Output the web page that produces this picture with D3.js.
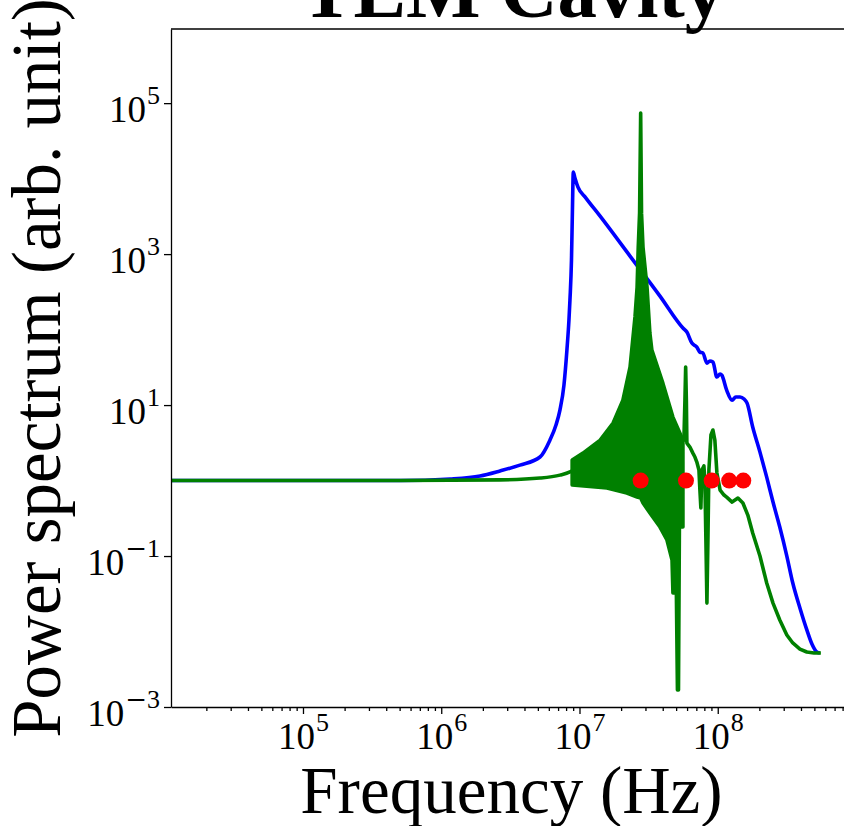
<!DOCTYPE html>
<html><head><meta charset="utf-8">
<script src="https://cdn.jsdelivr.net/npm/d3@7"></script>
<style>body{margin:0;background:#fff}svg{display:block}</style>
</head><body><svg id="c" width="844" height="826"></svg>
<script>
// ---- data ----
const blueFreq=[1.11e4,9.5e4,5.04e5,1.16e6,1.91e6,2.66e6,3.71e6,5.18e6,6.11e6,6.76e6,7.22e6,7.72e6,8.11e6,8.39e6,8.53e6,8.75e6,8.89e6,9.02e6,9.27e6,9.75e6,1.11e7,1.41e7,2.32e7,3.82e7,5.60e7,5.98e7,6.50e7,7.06e7,7.43e7,7.81e7,8.35e7,8.77e7,9.23e7,9.86e7,1.04e8,1.07e8,1.16e8,1.27e8,1.35e8,1.45e8,1.55e8,1.63e8,1.79e8,2.02e8,2.26e8,2.51e8,2.81e8,3.16e8,3.49e8,3.93e8,4.41e8,4.80e8,5.21e8,5.48e8];
const bluePower=[1.0,1.0,1.0,1.05,1.15,1.34,1.60,2.05,3.43,5.43,8.59,18.4,53.5,134,246,834,3830,1.22e4,1.02e4,7710,5570,3180,942,278,105,92.7,66.2,58.6,50.3,48.9,36.0,38.3,37.2,23.5,25.8,24.9,15.8,11.6,12.8,12.8,12.0,10.6,5.12,2.38,1.11,0.519,0.242,0.1,0.0439,0.0205,0.0105,0.00683,0.00535,0.00519];

const greenLowFreq=[1.11e4,5.04e5,2.66e6,5.18e6,7.22e6,8.53e6,8.8e6];
const greenLowPower=[1.0,1.0,1.02,1.08,1.18,1.30,1.34];

const bandUpperFreq=[8.85e6,1.06e7,1.41e7,1.75e7,2.06e7,2.32e7,2.52e7,2.61e7,2.66e7,2.72e7,2.77e7,2.81e7,2.88e7,3.08e7,3.23e7,3.34e7,4.01e7,4.74e7,5.32e7,5.60e7];
const bandUpperPower=[1.87,2.31,3.43,5.78,11.6,31.8,147,366,1240,3490,7.38e4,3490,1240,366,89.9,53.5,19.5,6.93,4.26,3.43];
const bandLowerFreq=[8.85e6,1.58e7,2.20e7,2.61e7,2.77e7,2.88e7,3.23e7,3.82e7,4.29e7,4.67e7,4.74e7,5.02e7,5.11e7,5.20e7,5.28e7,5.60e7];
const bandLowerPower=[0.871,0.796,0.683,0.604,0.586,0.504,0.372,0.242,0.163,0.0885,0.0324,0.0324,0.00168,0.00168,0.242,0.242];

const greenHighFreq=[5.60e7,5.69e7,5.79e7,5.86e7,5.93e7,5.98e7,6.29e7,6.61e7,6.84e7,7.06e7,7.31e7,7.43e7,7.55e7,7.68e7,7.94e7,8.07e7,8.21e7,8.35e7,8.49e7,8.63e7,8.93e7,9.23e7,9.53e7,9.86e7,1.04e8,1.11e8,1.16e8,1.27e8,1.40e8,1.52e8,1.65e8,1.79e8,2.02e8,2.26e8,2.51e8,2.81e8,3.16e8,3.49e8,3.93e8,4.41e8,4.97e8,5.57e8];
const greenHighPower=[3.43,3.43,11.6,31.8,11.6,3.14,2.78,2.31,2.05,1.76,1.38,0.748,0.433,1.38,1.56,1.02,0.163,0.0238,0.163,1.38,4.01,4.67,3.43,1.26,0.748,0.643,0.604,0.519,0.586,0.504,0.349,0.202,0.1,0.0439,0.0238,0.0142,0.0090,0.00705,0.00586,0.00535,0.00519,0.00519];

const redFreq=[2.77e7,5.89e7,9.04e7,1.21e8,1.53e8];
const redPower=[1,1,1,1,1];

const xTickExps=[5,6,7,8];
const yTickExps=[5,3,1,-1,-3];
const titleText="TEM Cavity";
const xLabel="Frequency (Hz)";
const yLabel="Power spectrum (arb. unit)";

// ---- drawing ----
const FONT='"Liberation Serif","Times New Roman",serif';
const L=171,R=856,T=29,B=707;
const svg=d3.select('#c');
const x=d3.scaleLog().domain([1.11e4,1e9]).range([L,R]);
const y=d3.scaleLog().domain([1e-3,9.6e5]).range([B,T]);

svg.append('defs').append('clipPath').attr('id','clip')
  .append('rect').attr('x',L).attr('y',T).attr('width',R-L).attr('height',B-T);
const plot=svg.append('g').attr('clip-path','url(#clip)');

const zip=(f,p)=>f.map((v,i)=>[v,p[i]]);
const line=d3.line().x(d=>x(d[0])).y(d=>y(d[1]));
const smooth=d3.line().x(d=>x(d[0])).y(d=>y(d[1])).curve(d3.curveMonotoneX);
const LW=3.6;

plot.append('path').attr('d',smooth(zip(blueFreq,bluePower)))
  .attr('fill','none').attr('stroke','#0000ff').attr('stroke-width',LW).attr('stroke-linejoin','round');

const gcol='#008000';
plot.append('path').attr('d',smooth(zip(greenLowFreq,greenLowPower)))
  .attr('fill','none').attr('stroke',gcol).attr('stroke-width',LW).attr('stroke-linejoin','round');
const bandPts=zip(bandUpperFreq,bandUpperPower).concat(zip(bandLowerFreq,bandLowerPower).reverse());
plot.append('path').attr('d',line(bandPts)+'Z')
  .attr('fill',gcol).attr('stroke',gcol).attr('stroke-width',LW).attr('stroke-linejoin','round');
plot.append('path').attr('d',line(zip(greenHighFreq,greenHighPower)))
  .attr('fill','none').attr('stroke',gcol).attr('stroke-width',LW).attr('stroke-linejoin','round');

plot.selectAll('circle.r').data(zip(redFreq,redPower)).enter().append('circle')
  .attr('cx',d=>x(d[0])).attr('cy',d=>y(d[1])).attr('r',8).attr('fill','#ff0000');

// axes
const sup=(sel,e)=>{
  sel.text(null);
  sel.append('tspan').text('10');
  if(e<0){
    sel.append('tspan').attr('dy',-18).attr('dx',1).attr('font-size',26).attr('font-family','"DejaVu Serif",serif').text('\u2212');
    sel.append('tspan').attr('font-size',26).text(String(-e));
  } else {
    sel.append('tspan').attr('dy',-18).attr('dx',1).attr('font-size',26).text(String(e));
  }
};
const xMajor=xTickExps.map(e=>Math.pow(10,e));
const xMinor=[];
for(let e=4;e<=8;e++)for(let m=2;m<=9;m++){const v=m*Math.pow(10,e);if(v>=1.11e4&&v<=1e9)xMinor.push(v);}

const gxMinor=svg.append('g').attr('transform',`translate(0,${B})`)
  .call(d3.axisBottom(x).tickValues(xMinor).tickSize(4).tickSizeOuter(0).tickFormat(''));
gxMinor.select('.domain').remove();
gxMinor.selectAll('.tick text').remove();
const gx=svg.append('g').attr('transform',`translate(0,${B})`)
  .call(d3.axisBottom(x).tickValues(xMajor).tickSize(7).tickSizeOuter(0).tickFormat(''));
gx.selectAll('.tick text').each(function(d){
  const t=d3.select(this).attr('y',42).attr('dy',null).attr('font-size',37).attr('font-family',FONT).attr('fill','#000');
  sup(t,Math.round(Math.log10(d)));
});
const gy=svg.append('g').attr('transform',`translate(${L},0)`)
  .call(d3.axisLeft(y).tickValues(yTickExps.map(e=>Math.pow(10,e))).tickSize(7).tickSizeOuter(0).tickFormat(''));
gy.selectAll('.tick text').each(function(d){
  const t=d3.select(this).attr('x',-11).attr('dy',null).attr('y',18).attr('font-size',37).attr('font-family',FONT).attr('fill','#000').attr('text-anchor','end');
  sup(t,Math.round(Math.log10(d)));
});
[gx,gy,gxMinor].forEach(g=>{g.selectAll('.tick line').attr('stroke','#000').attr('stroke-width',1.3);g.select('.domain').attr('stroke','#000').attr('stroke-width',1.3);});

// top & right spines
svg.append('line').attr('x1',L).attr('x2',R).attr('y1',T).attr('y2',T).attr('stroke','#000').attr('stroke-width',1.3);
svg.append('line').attr('x1',R).attr('x2',R).attr('y1',T).attr('y2',B).attr('stroke','#000').attr('stroke-width',1.3);

// labels
svg.append('text').attr('x',(L+R)/2-1).attr('y',17).attr('text-anchor','middle')
  .attr('font-family',FONT).attr('font-weight','bold').attr('font-size',79).text(titleText);
svg.append('text').attr('x',(L+R)/2-2).attr('y',813).attr('text-anchor','middle')
  .attr('font-family',FONT).attr('font-size',67).text(xLabel);
svg.append('text').attr('transform',`translate(60,${(T+B)/2}) rotate(-90)`).attr('text-anchor','middle')
  .attr('font-family',FONT).attr('font-size',69).text(yLabel);
</script></body></html>
